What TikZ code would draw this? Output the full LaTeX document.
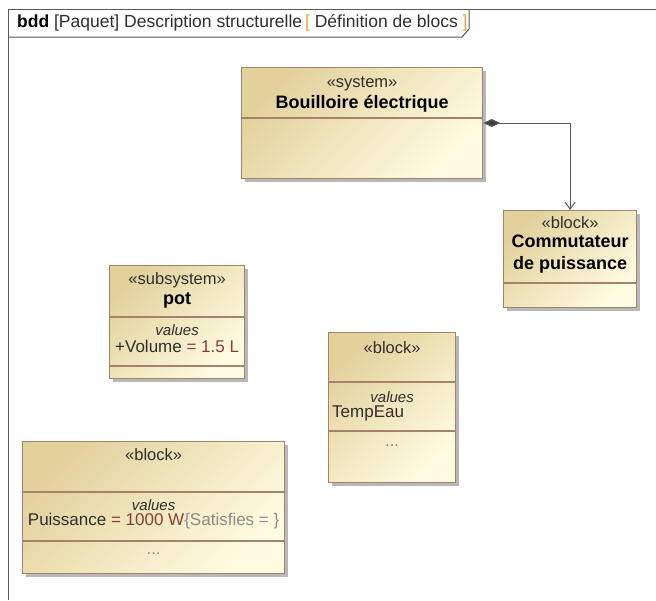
\documentclass[tikz,border=0pt]{standalone}
\usepackage{fontspec}
\setmainfont{Liberation Sans}
\usetikzlibrary{arrows.meta,positioning,calc,shadows}

\definecolor{blkdark}{HTML}{E3D19C}
\definecolor{blklight}{HTML}{FFFCE2}
\definecolor{blkline}{HTML}{A5836A}
\definecolor{valred}{HTML}{8A3B3B}
\definecolor{tabbrk}{HTML}{E8A33C}
\definecolor{txtdark}{HTML}{2E2E2E}

\tikzset{
  blk/.style={draw=blkline, line width=1.2pt, top color=blkdark, bottom color=blklight,
    shading angle=45, anchor=north west, inner sep=0pt,
    drop shadow={shadow xshift=3.5pt, shadow yshift=-3.5pt, fill=black!28, opacity=1}},
  divl/.style={draw=blkline, line width=1.2pt},
  stereo/.style={font=\fontsize{16.5}{18}\selectfont, text=txtdark, inner sep=0pt},
  bname/.style={font=\fontsize{18}{21}\selectfont\bfseries, text=black, inner sep=0pt, align=center},
  vals/.style={font=\fontsize{15}{17}\selectfont\itshape, text=txtdark, inner sep=0pt},
  attr/.style={font=\fontsize{17}{19}\selectfont, text=txtdark, inner sep=0pt},
  frm/.style={draw=black!65, line width=1pt},
  comp/.style={draw=black!65, line width=1pt,
    {Diamond[length=17pt,width=8pt,fill=black!75]}-{Straight Barb[length=7pt,width=10pt]}}
}

\begin{document}
\begin{tikzpicture}[x=1pt,y=-1pt]
\useasboundingbox (0,0) rectangle (656,600);
% Frame and tab
\draw[frm] (8,600) -- (8,9) -- (656,9);
\draw[frm] (8,37) -- (462,37) -- (469,29) -- (469,9);
\node[anchor=west, inner sep=0pt, font=\fontsize{17.5}{19}\selectfont, text=txtdark] (ttl) at (17,23)
  {\textbf{\color{black}bdd} [Paquet] Description structurelle\,\textcolor{tabbrk}{[} Définition de blocs \textcolor{tabbrk}{]}};
% Blocks
\node[blk, minimum width=241pt, minimum height=111pt] (sys) at (241,67) {};
\node[blk, minimum width=133pt, minimum height=97pt] (com) at (503,210) {};
\node[blk, minimum width=135pt, minimum height=113pt] (pot) at (109,265) {};
\node[blk, minimum width=127pt, minimum height=150pt] (tmp) at (328,332) {};
\node[blk, minimum width=262pt, minimum height=132pt] (pui) at (22,441) {};
% Compartments
\draw[divl] ($(sys.north west)+(0,51)$) -- ($(sys.north east)+(0,51)$);
\draw[divl] ($(com.north west)+(0,73)$) -- ($(com.north east)+(0,73)$);
\foreach \b/\d in {pot/52,pot/101,tmp/50,tmp/99,pui/51,pui/100} {
  \draw[divl] ($(\b.north west)+(0,\d)$) -- ($(\b.north east)+(0,\d)$);
}
% System
\node[stereo] (sysst) at ($(sys.north)+(0,17)$) {«system»};
\node[bname] (sysnm) at ($(sys.north)+(0,37)$) {Bouilloire électrique};
% Commutateur
\node[stereo] (comst) at ($(com.north)+(0,13)$) {«block»};
\node[bname] (comnm) at ($(com.north)+(0,44)$) {Commutateur\\[1pt]de puissance};
% Pot
\node[stereo] (potst) at ($(pot.north)+(0,15)$) {«subsystem»};
\node[bname] (potnm) at ($(pot.north)+(0,35)$) {pot};
\node[vals] (potvl) at ($(pot.north)+(0,65)$) {values};
\node[attr] (potat) at ($(pot.north)+(0,81)$) {+Volume \textcolor{valred}{= 1.5 L}};
% TempEau
\node[stereo] (tmpst) at ($(tmp.north)+(0,16)$) {«block»};
\node[vals] (tmpvl) at ($(tmp.north)+(0,65)$) {values};
\node[attr, anchor=west] (tmpat) at ($(tmp.north west)+(4,81)$) {TempEau};
\node[stereo, text=black!45] (tmpdt) at ($(tmp.north)+(0,114)$) {...};
% Puissance
\node[stereo] (puist) at ($(pui.north)+(0,14)$) {«block»};
\node[vals] (puivl) at ($(pui.north)+(0,64)$) {values};
\node[attr] (puiat) at ($(pui.north)+(0,80)$)
  {Puissance \textcolor{valred}{= 1000 W}\textcolor{black!45}{\{Satisfies = \}}};
\node[stereo, text=black!45] (puidt) at ($(pui.north)+(0,113)$) {...};
% Composition
\coordinate (cs) at ($(sys.north east)+(0,56)$);
\draw[comp] (cs) -| (com.north);
\end{tikzpicture}
\end{document}
